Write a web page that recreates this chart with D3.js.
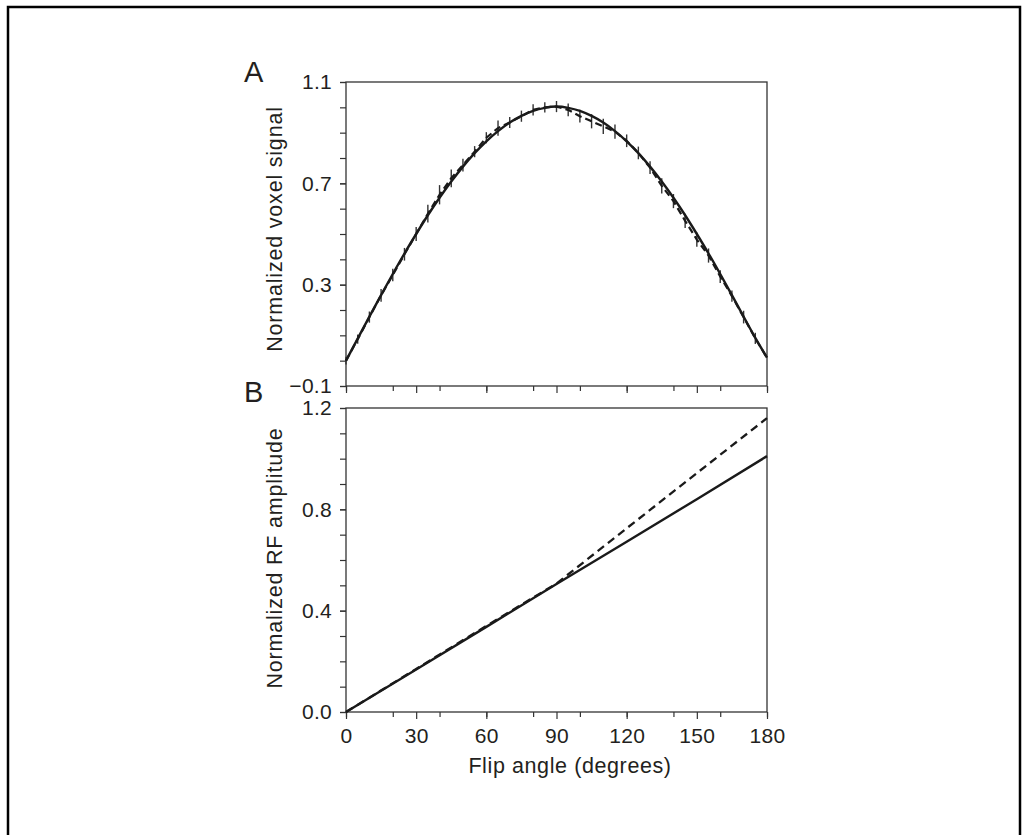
<!DOCTYPE html>
<html>
<head>
<meta charset="utf-8">
<script src="https://cdn.jsdelivr.net/npm/d3@7"></script>
<style>
    body { margin: 0; background: #fff; }
    svg text { font-family: "Liberation Sans", Arial, Helvetica, sans-serif; fill: #231f20; }
    .tick line { stroke: #333; stroke-width: 1.2; }
</style>
</head>
<body>
<svg id="chart" width="1023" height="835"></svg>
<script>
// --- Panel A: voxel signal vs flip angle ---
const angles = [0, 5, 10, 15, 20, 25, 30, 35, 40, 45, 50, 55, 60, 65, 70, 75, 80, 85, 90,
    95, 100, 105, 110, 115, 120, 125, 130, 135, 140, 145, 150, 155, 160, 165, 170, 175, 180];
const signalTheory = [0.00, 0.087, 0.174, 0.259, 0.342, 0.423, 0.50, 0.574, 0.643, 0.707, 0.766,
    0.819, 0.866, 0.906, 0.940, 0.966, 0.986, 0.998, 1.003, 0.998, 0.986, 0.966, 0.940, 0.906,
    0.866, 0.819, 0.766, 0.707, 0.643, 0.574, 0.50, 0.423, 0.342, 0.259, 0.174, 0.090, 0.012];
const signalMeasured = [0.00, 0.085, 0.172, 0.258, 0.338, 0.42, 0.50, 0.58, 0.655, 0.72, 0.772,
    0.825, 0.88, 0.918, 0.94, 0.965, 0.99, 1.0, 1.003, 0.99, 0.965, 0.945, 0.925, 0.904,
    0.868, 0.82, 0.762, 0.69, 0.63, 0.552, 0.478, 0.415, 0.332, 0.255, 0.172, 0.088, 0.012];
const signalError = [0.015, 0.018, 0.022, 0.025, 0.025, 0.025, 0.028, 0.035, 0.038, 0.035, 0.025,
    0.022, 0.022, 0.03, 0.022, 0.022, 0.022, 0.02, 0.022, 0.025, 0.025, 0.028, 0.03, 0.028,
    0.025, 0.025, 0.025, 0.03, 0.028, 0.028, 0.028, 0.028, 0.025, 0.022, 0.025, 0.022, 0];

// --- Panel B: RF amplitude vs flip angle ---
const rfAngles = [0, 30, 60, 90, 120, 150, 180];
const rfTheory = [0.00, 0.168, 0.336, 0.505, 0.672, 0.84, 1.01];
const rfMeasured = [0.00, 0.17, 0.34, 0.507, 0.725, 0.943, 1.16];

// tick labels
const angleTicks = [0, 30, 60, 90, 120, 150, 180];
const signalTicks = [-0.1, 0.3, 0.7, 1.1];
const rfTicks = [0.0, 0.4, 0.8, 1.2];

const svg = d3.select('#chart');
const ink = '#1a1a1a';

// page frame
svg.append('rect')
    .attr('x', 8).attr('y', 7)
    .attr('width', 1012).attr('height', 900)
    .attr('fill', 'none').attr('stroke', '#000').attr('stroke-width', 2.5);

const x = d3.scaleLinear().domain([0, 180]).range([346, 767]);
const yA = d3.scaleLinear().domain([-0.1, 1.1]).range([386, 82]);
const yB = d3.scaleLinear().domain([0, 1.2]).range([712, 408]);

const fmt = v => (v < 0 ? '\u2212' : '') + Math.abs(v).toFixed(1);

function drawFrame(y, majorTicks, showXLabels) {
    const [y0, y1] = y.range();
    const g = svg.append('g');

    // minor y ticks
    g.append('g')
        .attr('transform', `translate(${x.range()[0]},0)`)
        .call(d3.axisLeft(y).ticks(12).tickSize(6).tickFormat(''))
        .call(s => s.select('.domain').remove());
    // labelled y ticks
    g.append('g')
        .attr('transform', `translate(${x.range()[0]},0)`)
        .call(d3.axisLeft(y).tickValues(majorTicks).tickSize(6).tickPadding(8).tickFormat(fmt))
        .call(s => s.select('.domain').remove())
        .call(s => s.selectAll('text').attr('font-size', 21).attr('letter-spacing', 0.3));

    // minor x ticks every 15 degrees
    g.append('g')
        .attr('transform', `translate(0,${y0})`)
        .call(d3.axisBottom(x).ticks(12).tickSize(5).tickFormat(''))
        .call(s => s.select('.domain').remove());
    const xa = g.append('g')
        .attr('transform', `translate(0,${y0})`)
        .call(d3.axisBottom(x).tickValues(angleTicks).tickSize(7).tickPadding(9)
            .tickFormat(showXLabels ? d3.format('d') : ''))
        .call(s => s.select('.domain').remove());
    xa.selectAll('text').attr('font-size', 21).attr('letter-spacing', 0.3);

    // plot box
    g.append('rect')
        .attr('x', x.range()[0]).attr('y', y1)
        .attr('width', x.range()[1] - x.range()[0]).attr('height', y0 - y1)
        .attr('fill', 'none').attr('stroke', '#333').attr('stroke-width', 1.3);
    return g;
}

// ----- Panel A -----
drawFrame(yA, signalTicks, false);

const lineA = d3.line().x((d, i) => x(angles[i])).y(d => yA(d));

svg.append('g')
    .selectAll('line')
    .data(signalError.map((e, i) => ({ a: angles[i], v: signalMeasured[i], e })).filter(d => d.e > 0))
    .join('line')
    .attr('x1', d => x(d.a)).attr('x2', d => x(d.a))
    .attr('y1', d => yA(d.v - d.e)).attr('y2', d => yA(d.v + d.e))
    .attr('stroke', '#333').attr('stroke-width', 1.4);

svg.append('path')
    .attr('d', lineA(signalMeasured))
    .attr('fill', 'none').attr('stroke', ink).attr('stroke-width', 2.2)
    .attr('stroke-dasharray', '7,4');

svg.append('path')
    .attr('d', lineA.curve(d3.curveNatural)(signalTheory))
    .attr('fill', 'none').attr('stroke', ink).attr('stroke-width', 2.4);

// ----- Panel B -----
drawFrame(yB, rfTicks, true);

const lineB = d3.line().x((d, i) => x(rfAngles[i])).y(d => yB(d));

svg.append('path')
    .attr('d', lineB(rfMeasured))
    .attr('fill', 'none').attr('stroke', ink).attr('stroke-width', 2.3)
    .attr('stroke-dasharray', '8,5');

svg.append('path')
    .attr('d', lineB(rfTheory))
    .attr('fill', 'none').attr('stroke', ink).attr('stroke-width', 2.4);

// ----- labels -----
svg.append('text').attr('x', 244).attr('y', 82).attr('font-size', 29).text('A');
svg.append('text').attr('x', 244).attr('y', 402).attr('font-size', 29).text('B');

svg.append('text')
    .attr('transform', 'translate(282,229) rotate(-90)')
    .attr('text-anchor', 'middle').attr('font-size', 21.5).attr('letter-spacing', 0.8)
    .text('Normalized voxel signal');
svg.append('text')
    .attr('transform', 'translate(282,558) rotate(-90)')
    .attr('text-anchor', 'middle').attr('font-size', 21.5).attr('letter-spacing', 0.8)
    .text('Normalized RF amplitude');
svg.append('text')
    .attr('x', 570).attr('y', 773)
    .attr('text-anchor', 'middle').attr('font-size', 21.5).attr('letter-spacing', 0.6)
    .text('Flip angle (degrees)');
</script>
</body>
</html>
